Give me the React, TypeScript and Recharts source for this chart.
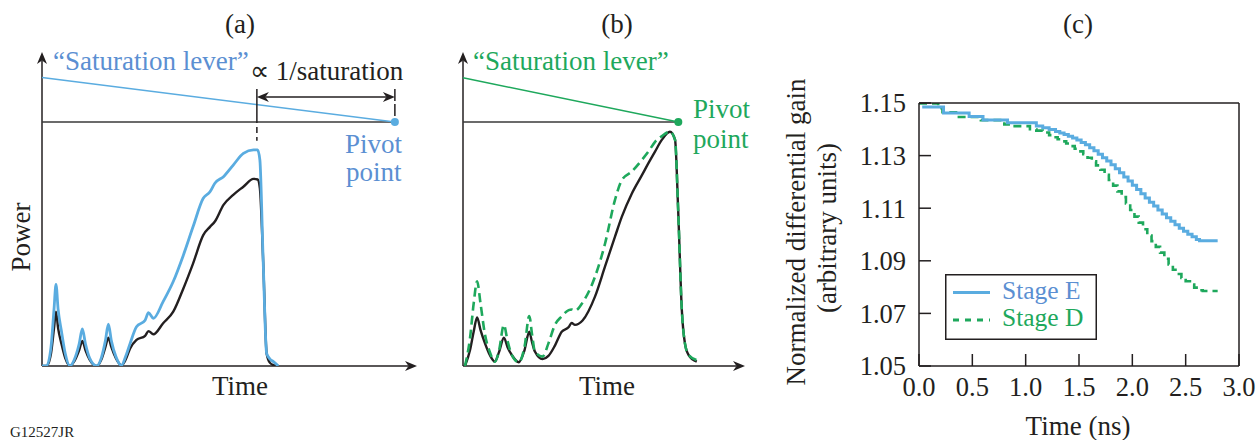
import React from 'react';
import { LineChart, Line, XAxis, YAxis, ReferenceLine, ReferenceDot, Legend } from 'recharts';

const SERIF = '"Liberation Serif", "Times New Roman", serif';
const INK = '#231f20';
const GRAYLINE = '#3a3a3a';
const BLUE = '#5aace0';
const BLUE_TEXT = '#5b8fd2';
const GREEN = '#1ea85c';

// ---------- Panel (a): schematic pulse, arbitrary units (0-100) ----------
const timeA = [0, 1.2, 2.4, 3.2, 3.73, 4.3, 5.2, 6.2, 7.47, 8.6, 9.9, 10.76, 11.6, 12.7, 14.6, 15.8, 16.9, 17.7, 18.5, 19.7, 21.2, 22.3, 23.5, 25.2, 27.5, 28.4, 29.7, 32.3, 35.0, 37.7, 40.3, 43.0, 44.8, 46.1, 48.4, 51.0, 53.7, 56.4, 57.5, 58.1, 59.0, 59.9, 60.8, 61.7, 63.0];
const powerALever = [0, 0, 6, 18, 26, 18, 11, 4, 0, 2, 7, 11.8, 7, 2.5, 0, 2.5, 8, 13.3, 8, 3, 0.2, 3, 7.2, 12.5, 14.6, 17.0, 15.2, 20.5, 26.9, 35.3, 44.4, 53.4, 55.5, 58.2, 60.3, 64.0, 67.7, 68.8, 68.8, 65.6, 32.7, 4.0, 2.2, 1.4, 0];
const powerABase = [0, 0, 4, 12, 17.3, 12, 7, 2.5, 0, 1.5, 5, 8, 5, 2, 0, 2, 6, 9, 6, 2.5, 0.2, 2, 5.6, 8.3, 9.6, 11.1, 10.1, 13.6, 17.3, 24.7, 32.7, 41.7, 44.3, 46.0, 51.3, 54.5, 57.1, 59.6, 59.4, 56.6, 32.7, 4.0, 1.0, 0.3, 0];
const leverA = { startY: 91.9, pivotX: 94.1, pivotY: 77.7 };
const spanA = { fromX: 57.3, toX: 94.1, arrowY: 85.7, barTop: 88.2, leftBarBottom: 71.7, rightBarBottom: 79.6 };

// ---------- Panel (b) ----------
const timeB = [0.7, 2.5, 3.8, 5.0, 6.2, 7.8, 9.5, 11.3, 12.8, 14.5, 15.8, 17.3, 19.8, 21.8, 23.5, 24.5, 25.5, 28.2, 30.3, 32.6, 35.0, 37.5, 38.5, 39.7, 42.4, 46.8, 50.4, 53.9, 56.3, 59.8, 63.4, 66.0, 68.1, 70.5, 73.4, 75.2, 76.3, 77.6, 78.7, 80.0, 82.9];
const powerBBase = [0, 5.1, 11, 15.5, 11.5, 7.2, 3.5, 1.4, 4.5, 9.0, 6.0, 3.5, 1.2, 5, 10.9, 7.5, 4.6, 2.2, 3.2, 6.5, 10.9, 12.4, 13.7, 13.1, 14.5, 22.1, 31.8, 41.2, 47.5, 54.8, 60.7, 65.0, 68.3, 72.0, 74.6, 72.0, 49.7, 17.8, 7.2, 3.5, 1.4];
const powerBLever = [0, 9, 20, 27, 20, 10, 4.5, 1.4, 5, 13.1, 8, 3.5, 1.2, 6, 15.9, 10, 4.6, 3.0, 7.2, 13.1, 15.8, 17.8, 18.0, 17.6, 20.2, 28.4, 39.1, 52.9, 59.2, 61.9, 65.6, 68.6, 71.4, 73.2, 74.6, 72.0, 49.7, 17.8, 7.2, 3.5, 1.9];
const leverB = { startY: 91.8, pivotX: 76.35, pivotY: 77.7 };

// ---------- Panel (c): normalized differential gain ----------
const timeE = [0.03, 0.23, 0.47, 0.60, 0.83, 1.10, 1.16, 1.22, 1.28, 1.32, 1.36, 1.40, 1.44, 1.48, 1.52, 1.56, 1.60, 1.64, 1.68, 1.72, 1.76, 1.80, 1.84, 1.88, 1.92, 1.96, 2.00, 2.04, 2.08, 2.12, 2.16, 2.20, 2.24, 2.28, 2.32, 2.36, 2.40, 2.44, 2.48, 2.52, 2.56, 2.60, 2.63, 2.80];
const gainE = [1.1485, 1.1462, 1.1449, 1.1435, 1.1425, 1.1413, 1.1406, 1.1399, 1.1392, 1.1386, 1.1380, 1.1374, 1.1367, 1.1359, 1.1350, 1.1341, 1.1330, 1.1318, 1.1305, 1.1292, 1.1279, 1.1265, 1.1250, 1.1235, 1.1219, 1.1203, 1.1187, 1.1171, 1.1155, 1.1139, 1.1123, 1.1108, 1.1093, 1.1078, 1.1064, 1.1050, 1.1037, 1.1024, 1.1012, 1.1001, 1.0991, 1.0981, 1.0976, 1.0976];
const timeD = [0.00, 0.18, 0.22, 0.36, 0.58, 0.80, 0.86, 1.04, 1.10, 1.16, 1.22, 1.26, 1.30, 1.34, 1.38, 1.42, 1.46, 1.50, 1.54, 1.58, 1.62, 1.66, 1.70, 1.74, 1.78, 1.82, 1.86, 1.90, 1.94, 1.98, 2.02, 2.06, 2.10, 2.14, 2.18, 2.22, 2.26, 2.30, 2.34, 2.38, 2.42, 2.46, 2.50, 2.54, 2.58, 2.62, 2.66, 2.80];
const gainD = [1.1498, 1.1480, 1.1465, 1.1447, 1.1435, 1.1418, 1.1412, 1.1400, 1.1395, 1.1388, 1.1378, 1.1370, 1.1362, 1.1354, 1.1346, 1.1336, 1.1326, 1.1316, 1.1305, 1.1292, 1.1278, 1.1263, 1.1246, 1.1227, 1.1207, 1.1186, 1.1164, 1.1142, 1.1118, 1.1093, 1.1068, 1.1045, 1.1020, 1.0996, 1.0975, 1.0953, 1.0931, 1.0908, 1.0886, 1.0866, 1.0850, 1.0835, 1.0822, 1.0810, 1.0798, 1.0788, 1.0785, 1.0785];
const ticksX = [0, 0.5, 1.0, 1.5, 2.0, 2.5, 3.0];
const ticksY = [1.05, 1.07, 1.09, 1.11, 1.13, 1.15];
const seriesNames = ['Stage E', 'Stage D'];

const toRows = (xs: number[], ys: number[]) => xs.map((t, i) => ({ t, v: ys[i] }));

function makeArrow(color: string, width: number, both = false) {
  return (p: any) => {
    const { x1, y1, x2, y2 } = p;
    const dx = x2 - x1;
    const dy = y2 - y1;
    const len = Math.hypot(dx, dy) || 1;
    const ux = dx / len;
    const uy = dy / len;
    const nx = -uy;
    const ny = ux;
    const L = 12;
    const W = 5;
    const N = 3.5;
    const head = (tx: number, ty: number, sx: number, sy: number) =>
      `${tx},${ty} ${tx - sx * L + nx * W},${ty - sy * L + ny * W} ${tx - sx * (L - N)},${ty - sy * (L - N)} ${tx - sx * L - nx * W},${ty - sy * L - ny * W}`;
    const sx1 = both ? x1 + ux * (L - N) : x1;
    const sy1 = both ? y1 + uy * (L - N) : y1;
    return (
      <g>
        <line x1={sx1} y1={sy1} x2={x2 - ux * (L - N)} y2={y2 - uy * (L - N)} stroke={color} strokeWidth={width} />
        <polygon points={head(x2, y2, ux, uy)} fill={color} />
        {both && <polygon points={head(x1, y1, -ux, -uy)} fill={color} />}
      </g>
    );
  };
}

const axisArrow = makeArrow(INK, 1.5);
const spanArrow = makeArrow(INK, 1.5, true);

function PanelA() {
  const base = toRows(timeA, powerABase);
  const lever = toRows(timeA, powerALever);
  return (
    <LineChart width={430} height={400} margin={{ left: 42, right: 13, top: 52, bottom: 34 }}>
      <XAxis type="number" dataKey="t" domain={[0, 100]} hide height={0} allowDataOverflow />
      <YAxis type="number" dataKey="v" domain={[0, 100]} hide width={0} allowDataOverflow />
      <ReferenceLine ifOverflow="visible" segment={[{ x: 0, y: 0 }, { x: 100, y: 0 }]} shape={axisArrow} />
      <ReferenceLine ifOverflow="visible" segment={[{ x: 0, y: 0 }, { x: 0, y: 100 }]} shape={axisArrow} />
      <ReferenceLine ifOverflow="visible" segment={[{ x: 0, y: leverA.pivotY }, { x: leverA.pivotX, y: leverA.pivotY }]} stroke={GRAYLINE} strokeWidth={1.4} />
      <ReferenceLine ifOverflow="visible" segment={[{ x: 0, y: leverA.startY }, { x: leverA.pivotX, y: leverA.pivotY }]} stroke={BLUE} strokeWidth={1.4} />
      <ReferenceLine ifOverflow="visible" segment={[{ x: spanA.fromX, y: spanA.barTop }, { x: spanA.fromX, y: spanA.leftBarBottom }]} stroke={INK} strokeWidth={1.5} strokeDasharray="34 4 6 4 6 4" />
      <ReferenceLine ifOverflow="visible" segment={[{ x: spanA.toX, y: spanA.barTop }, { x: spanA.toX, y: spanA.rightBarBottom }]} stroke={INK} strokeWidth={1.5} strokeDasharray="12 3 12 3" />
      <ReferenceLine ifOverflow="visible" segment={[{ x: spanA.fromX, y: spanA.arrowY }, { x: spanA.toX, y: spanA.arrowY }]} shape={spanArrow} />
      <ReferenceDot ifOverflow="visible" x={leverA.pivotX} y={leverA.pivotY} r={4} fill={BLUE} stroke="none" />
      <Line data={base} dataKey="v" type="monotone" stroke={INK} strokeWidth={2.4} dot={false} isAnimationActive={false} />
      <Line data={lever} dataKey="v" type="monotone" stroke={BLUE} strokeWidth={2.8} dot={false} isAnimationActive={false} />
    </LineChart>
  );
}

function PanelB() {
  const base = toRows(timeB, powerBBase);
  const lever = toRows(timeB, powerBLever);
  return (
    <LineChart width={340} height={400} margin={{ left: 33, right: 25, top: 52, bottom: 34 }}>
      <XAxis type="number" dataKey="t" domain={[0, 100]} hide height={0} allowDataOverflow />
      <YAxis type="number" dataKey="v" domain={[0, 100]} hide width={0} allowDataOverflow />
      <ReferenceLine ifOverflow="visible" segment={[{ x: 0, y: 0 }, { x: 100, y: 0 }]} shape={axisArrow} />
      <ReferenceLine ifOverflow="visible" segment={[{ x: 0, y: 0 }, { x: 0, y: 100 }]} shape={axisArrow} />
      <ReferenceLine ifOverflow="visible" segment={[{ x: 0, y: leverB.pivotY }, { x: leverB.pivotX, y: leverB.pivotY }]} stroke={GRAYLINE} strokeWidth={1.4} />
      <ReferenceLine ifOverflow="visible" segment={[{ x: 0, y: leverB.startY }, { x: leverB.pivotX, y: leverB.pivotY }]} stroke={GREEN} strokeWidth={1.4} />
      <ReferenceDot ifOverflow="visible" x={leverB.pivotX} y={leverB.pivotY} r={4} fill={GREEN} stroke="none" />
      <Line data={base} dataKey="v" type="monotone" stroke={INK} strokeWidth={2.4} dot={false} isAnimationActive={false} />
      <Line data={lever} dataKey="v" type="monotone" stroke={GREEN} strokeWidth={2.6} strokeDasharray="9 5" dot={false} isAnimationActive={false} />
    </LineChart>
  );
}

function LegendBox() {
  return (
    <svg width={152} height={66} style={{ display: 'block' }}>
      <rect x={0.75} y={0.75} width={150.5} height={64.5} fill="#fff" stroke={INK} strokeWidth={1.5} />
      <line x1={8} y1={18.5} x2={45} y2={18.5} stroke={BLUE} strokeWidth={3} />
      <text x={57} y={24.5} fontFamily={SERIF} fontSize={25.5} fill={BLUE_TEXT}>{seriesNames[0]}</text>
      <line x1={8} y1={46} x2={45} y2={46} stroke={GREEN} strokeWidth={3} strokeDasharray="6 6" />
      <text x={57} y={51.5} fontFamily={SERIF} fontSize={25.5} fill={GREEN}>{seriesNames[1]}</text>
    </svg>
  );
}

function PanelC() {
  const rowsE = toRows(timeE, gainE);
  const rowsD = toRows(timeD, gainD);
  const frame = { stroke: INK, strokeWidth: 1.5 };
  const tickStyle = { fontSize: 26.5, fontFamily: SERIF, fill: INK };
  return (
    <LineChart width={476} height={440} margin={{ left: 79, right: 16, top: 102, bottom: 44 }}>
      <XAxis type="number" dataKey="t" domain={[0, 3]} ticks={ticksX} interval={0} tickFormatter={(v: number) => v.toFixed(1)}
        height={30} tickSize={-12} tickMargin={23} axisLine={frame} tickLine={frame} tick={tickStyle} allowDataOverflow />
      <XAxis xAxisId="top" orientation="top" type="number" domain={[0, 3]} ticks={ticksX} interval={0}
        height={1} tickSize={-12} axisLine={frame} tickLine={frame} tick={false} allowDataOverflow />
      <YAxis type="number" domain={[1.05, 1.15]} ticks={ticksY} interval={0} tickFormatter={(v: number) => v.toFixed(2)}
        width={60} tickSize={-12} tickMargin={25} axisLine={frame} tickLine={frame} tick={tickStyle} allowDataOverflow />
      <YAxis yAxisId="right" orientation="right" type="number" domain={[1.05, 1.15]} ticks={ticksY} interval={0}
        width={1} tickSize={-12} axisLine={frame} tickLine={frame} tick={false} allowDataOverflow />
      <Line data={rowsD} dataKey="v" name={seriesNames[1]} type="stepAfter" stroke={GREEN} strokeWidth={2.6} strokeDasharray="8 5" dot={false} isAnimationActive={false} />
      <Line data={rowsE} dataKey="v" name={seriesNames[0]} type="stepAfter" stroke={BLUE} strokeWidth={3} dot={false} isAnimationActive={false} />
      <Legend layout="horizontal" verticalAlign="middle" align="center"
        wrapperStyle={{ left: 165, top: 274, width: 152, height: 66 }} content={() => <LegendBox />} />
    </LineChart>
  );
}

function Texts() {
  const t = { fontFamily: SERIF, fontSize: 27, fill: INK } as const;
  return (
    <svg width={1256} height={440} style={{ position: 'absolute', left: 0, top: 0, pointerEvents: 'none' }}>
      <text {...t} x={240} y={33} textAnchor="middle">(a)</text>
      <text {...t} x={617} y={33} textAnchor="middle">(b)</text>
      <text {...t} x={1078} y={33} textAnchor="middle">(c)</text>

      <text {...t} x={53} y={70} fill={BLUE_TEXT}>“Saturation lever”</text>
      <text {...t} x={250} y={80}>∝ 1/saturation</text>
      <text {...t} x={345} y={153} fill={BLUE_TEXT}>Pivot</text>
      <text {...t} x={346} y={181} fill={BLUE_TEXT}>point</text>
      <text {...t} transform="translate(30,237) rotate(-90)" textAnchor="middle">Power</text>
      <text {...t} x={240} y={395} textAnchor="middle">Time</text>

      <text {...t} x={473} y={70} fill={GREEN}>“Saturation lever”</text>
      <text {...t} x={693} y={118} fill={GREEN}>Pivot</text>
      <text {...t} x={693} y={148} fill={GREEN}>point</text>
      <text {...t} x={607} y={395} textAnchor="middle">Time</text>

      <text {...t} transform="translate(805,232) rotate(-90)" textAnchor="middle">Normalized differential gain</text>
      <text {...t} transform="translate(836,228) rotate(-90)" textAnchor="middle">(arbitrary units)</text>
      <text {...t} x={1078} y={435} textAnchor="middle">Time (ns)</text>

      <text fontFamily={SERIF} fontSize={15} fill={INK} x={10} y={437}>G12527JR</text>
    </svg>
  );
}

export default function App() {
  return (
    <div style={{ position: 'absolute', left: 0, top: 0, width: 1256, height: 440, background: '#fff', overflow: 'hidden' }}>
      <div style={{ position: 'absolute', left: 0, top: 0 }}><PanelA /></div>
      <div style={{ position: 'absolute', left: 430, top: 0 }}><PanelB /></div>
      <div style={{ position: 'absolute', left: 780, top: 0 }}><PanelC /></div>
      <Texts />
    </div>
  );
}
